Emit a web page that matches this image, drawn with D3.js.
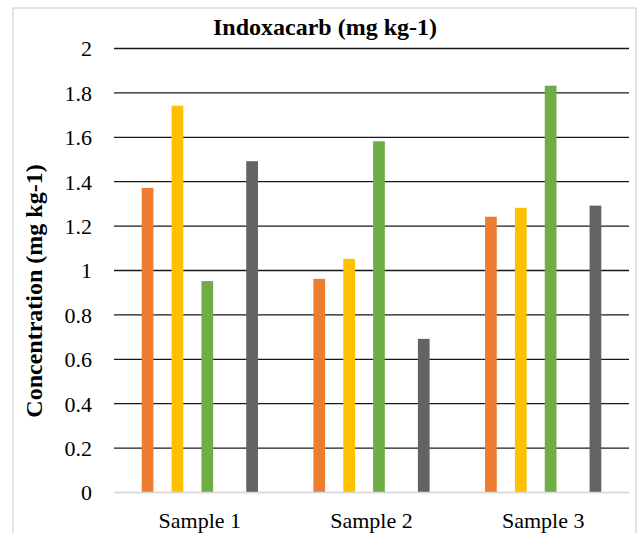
<!DOCTYPE html>
<html>
<head>
<meta charset="utf-8">
<script src="https://cdn.jsdelivr.net/npm/d3@7"></script>
<style>
  html, body { margin: 0; padding: 0; background: #fff; }
  svg { display: block; }
</style>
</head>
<body>
<svg id="chart" width="640" height="533"></svg>
<script>
// ---- data ----
const categories = ["Sample 1", "Sample 2", "Sample 3"];
// eight series slots in the original chart; only four carry values
const seriesNames = ["S1", "S2", "S3", "S4", "S5", "S6", "S7", "S8"];
const seriesColors = ["#ED7D31", "#A5A5A5", "#FFC000", "#5B9BD5", "#70AD47", "#264478", "#9E480E", "#636363"];
const s1 = [1.37, 0.96, 1.24];
const s2 = [null, null, null];
const s3 = [1.74, 1.05, 1.28];
const s4 = [null, null, null];
const s5 = [0.95, 1.58, 1.83];
const s6 = [null, null, null];
const s7 = [null, null, null];
const s8 = [1.49, 0.69, 1.29];
const seriesValues = [s1, s2, s3, s4, s5, s6, s7, s8];
const yTicks = [0, 0.2, 0.4, 0.6, 0.8, 1, 1.2, 1.4, 1.6, 1.8, 2];
const title = "Indoxacarb (mg kg-1)";
const yTitle = "Concentration (mg kg-1)";

// ---- layout ----
const svg = d3.select("#chart");
const W = 640, H = 533;
const plot = { left: 114, right: 629, top: 48, bottom: 492 };
const font = "'Liberation Serif', 'DejaVu Serif', serif";

svg.append("rect").attr("x", 0).attr("y", 0).attr("width", W).attr("height", H).attr("fill", "#fff");
// chart frame
svg.append("rect")
  .attr("x", 13).attr("y", 8).attr("width", 623).attr("height", 540)
  .attr("fill", "#fff").attr("stroke", "#d9d9d9").attr("stroke-width", 1.5);

const x0 = d3.scaleBand().domain(categories).range([plot.left, plot.right]).padding(0);
const bw = x0.bandwidth();
const x1 = d3.scaleBand().domain(seriesNames)
  .range([0.144 * bw, 0.856 * bw]).paddingInner(0.215).paddingOuter(0.2);
const y = d3.scaleLinear().domain([0, 2]).range([plot.bottom, plot.top]);

// gridlines
const yAxis = d3.axisLeft(y).tickValues(yTicks).tickSize(-(plot.right - plot.left)).tickPadding(22)
  .tickFormat(d => d3.format("~g")(d));
const gy = svg.append("g").attr("transform", `translate(${plot.left},0)`).call(yAxis)
  .attr("font-family", null).attr("font-size", null);
gy.select(".domain").remove();
gy.selectAll(".tick line")
  .attr("stroke", d => d === 0 ? "#d9d9d9" : "#1a1a1a")
  .attr("stroke-width", d => d === 0 ? 1.5 : 1.3);
gy.selectAll(".tick text")
  .style("font-family", font).style("font-size", "22px").attr("fill", "#000")
  .attr("dy", "0.36em");

// bars
const rows = [];
categories.forEach((c, ci) => {
  seriesNames.forEach((s, si) => {
    const v = seriesValues[si][ci];
    if (v != null) rows.push({ c, s, v, color: seriesColors[si] });
  });
});
svg.append("g").selectAll("rect").data(rows).join("rect")
  .attr("x", d => x0(d.c) + x1(d.s))
  .attr("y", d => y(d.v))
  .attr("width", x1.bandwidth())
  .attr("height", d => y(0) - y(d.v))
  .attr("fill", d => d.color);

// redraw baseline over bars
svg.append("line")
  .attr("x1", plot.left).attr("x2", plot.right)
  .attr("y1", y(0) + 0.5).attr("y2", y(0) + 0.5)
  .attr("stroke", "#d9d9d9").attr("stroke-width", 1.5);

// x axis labels
const xAxis = d3.axisBottom(x0).tickSize(0).tickPadding(20);
const gx = svg.append("g").attr("transform", `translate(0,${plot.bottom})`).call(xAxis)
  .attr("font-family", null).attr("font-size", null);
gx.select(".domain").remove();
gx.selectAll(".tick text")
  .style("font-family", font).style("font-size", "22px").attr("fill", "#000");

// title
svg.append("text")
  .attr("x", 325).attr("y", 35)
  .attr("text-anchor", "middle")
  .style("font-family", font).style("font-weight", "bold").style("font-size", "24px")
  .attr("fill", "#000")
  .text(title);

// y-axis title
svg.append("text")
  .attr("transform", `translate(42,291) rotate(-90)`)
  .attr("text-anchor", "middle")
  .style("font-family", font).style("font-weight", "bold").style("font-size", "24px")
  .attr("fill", "#000")
  .text(yTitle);
</script>
</body>
</html>
